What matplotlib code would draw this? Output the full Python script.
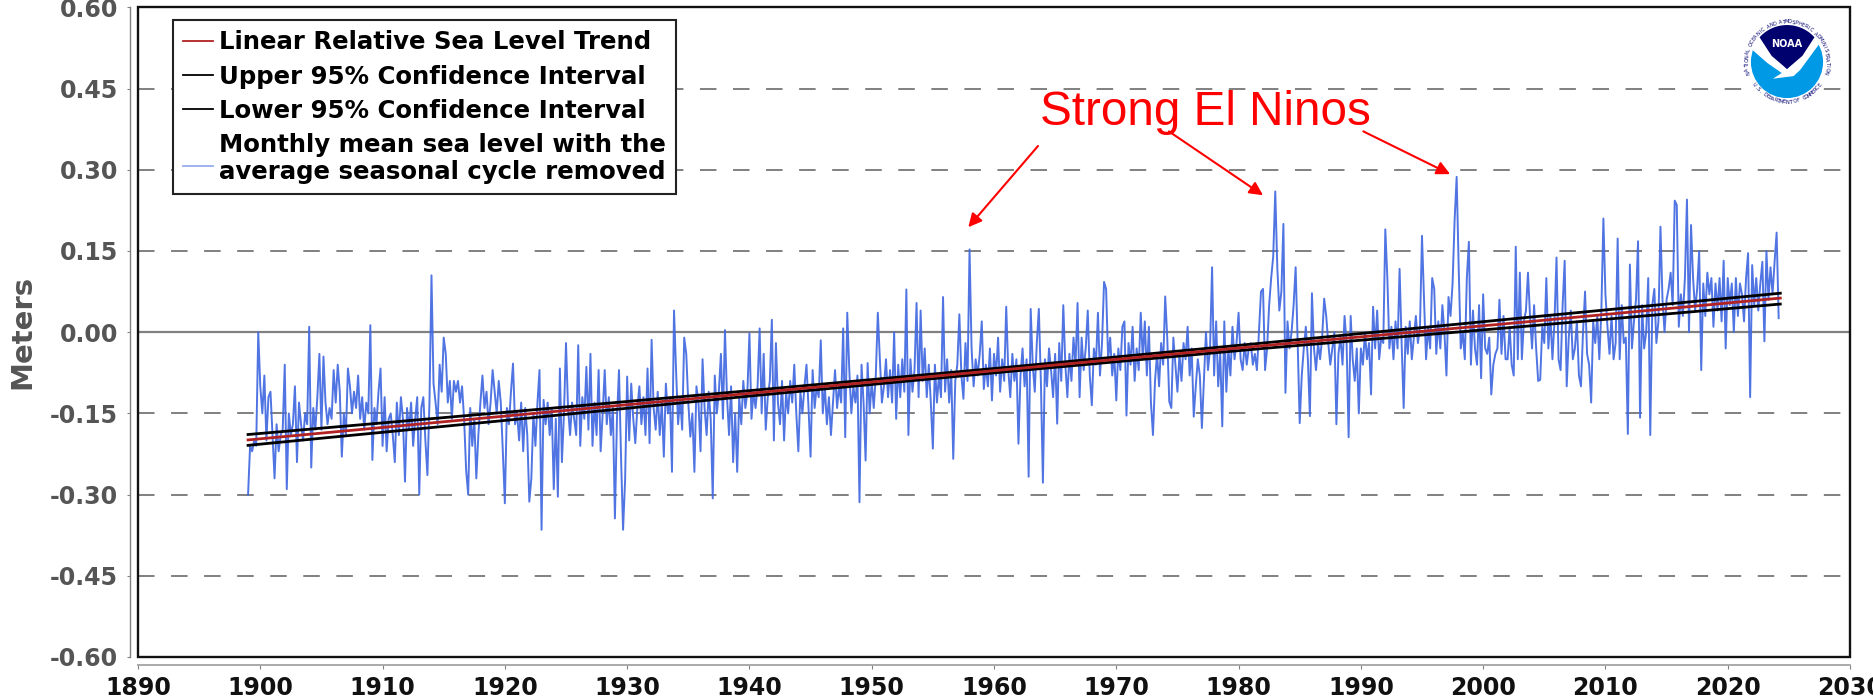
import numpy as np
import matplotlib
matplotlib.use("Agg")
import matplotlib.pyplot as plt
from matplotlib.patches import Circle, Polygon, Rectangle

# monthly mean sea level (read every two months off the picture), metres
msl_1899_1924 = [
    -.30, -.21, -.22, -.20, -.21, 0.00,
    -.10, -.15, -.08, -.20, -.12, -.11,
    -.19, -.27, -.17, -.22, -.19, -.18,
    -.06, -.29, -.15, -.19, -.17, -.10,
    -.24, -.13, -.17, -.20, -.15, -.17,
    .01, -.25, -.14, -.18, -.12, -.04,
    -.18, -.045, -.13, -.17, -.14, -.16,
    -.07, -.13, -.06, -.11, -.23, -.15,
    -.19, -.067, -.10, -.15, -.11, -.14,
    -.08, -.16, -.12, -.18, -.13, -.15,
    .013, -.236, -.14, -.17, -.11, -.067,
    -.21, -.12, -.22, -.16, -.15, -.19,
    -.24, -.13, -.19, -.12, -.16, -.276,
    -.14, -.18, -.13, -.21, -.16, -.12,
    -.30, -.14, -.12, -.20, -.264, -.13,
    .105, -.095, -.13, -.17, -.06, -.11,
    -.01, -.04, -.13, -.09, -.16, -.09,
    -.11, -.09, -.13, -.10, -.16, -.255,
    -.30, -.14, -.21, -.16, -.27, -.19,
    -.13, -.08, -.14, -.11, -.17, -.13,
    -.07, -.11, -.15, -.09, -.13, -.22,
    -.316, -.14, -.17, -.11, -.058, -.17,
    -.15, -.20, -.13, -.22, -.14, -.19,
    -.313, -.27, -.15, -.21, -.13, -.07,
    -.365, -.125, -.17, -.13, -.19, -.14,
    -.29, -.16, -.304, -.067, -.24, -.15,
]
msl_1925_1949 = [
    -.02, -.14, -.19, -.13, -.16, -.19,
    -.024, -.21, -.12, -.16, -.064, -.18,
    -.04, -.21, -.13, -.19, -.07, -.22,
    -.15, -.07, -.17, -.12, -.19, -.14,
    -.344, -.16, -.07, -.23, -.365, -.273,
    -.082, -.20, -.095, -.16, -.205, -.14,
    -.10, -.17, -.12, -.19, -.067, -.205,
    -.014, -.14, -.18, -.11, -.19, -.13,
    -.23, -.095, -.15, -.12, -.258, .04,
    -.07, -.17, -.12, -.18, -.01, -.04,
    -.13, -.193, -.15, -.258, -.10, -.13,
    -.22, -.05, -.14, -.19, -.11, -.16,
    -.307, -.08, -.15, -.11, -.04, -.16,
    .004, -.12, -.19, -.10, -.24, -.15,
    -.258, -.12, -.17, -.09, -.14, -.11,
    -.002, -.16, -.11, -.14, -.10, .007,
    -.15, -.04, -.18, -.12, -.09, .023,
    -.20, -.02, -.13, -.17, -.09, -.20,
    -.11, -.15, -.09, -.13, -.06, -.15,
    -.22, -.11, -.15, -.10, -.06, -.14,
    -.23, -.07, -.14, -.10, -.12, -.015,
    -.15, -.10, -.17, -.12, -.19, -.13,
    -.07, -.14, -.10, -.13, .007, -.194,
    .036, -.07, -.15, -.10, -.13, -.08,
    -.314, -.06, -.13, -.237, -.057, -.15,
]
msl_1950_1974 = [
    -.09, -.14, -.08, .036, -.05, -.13,
    -.10, -.05, -.12, -.07, -.13, 0.00,
    -.16, -.06, -.12, -.05, -.11, .079,
    -.19, -.05, -.11, -.07, .054, -.12,
    .04, -.09, -.03, -.12, -.06, -.13,
    -.215, -.06, -.13, -.08, -.12, .065,
    -.11, -.05, -.13, -.07, -.234, -.09,
    -.06, .033, -.08, -.123, -.02, -.09,
    .153, -.03, -.10, -.05, -.08, -.04,
    .02, -.105, -.06, -.10, -.03, -.126,
    -.04, -.08, -.01, -.11, -.05, -.09,
    .047, -.07, -.12, -.04, -.09, -.05,
    -.206, -.08, -.03, -.10, -.05, -.267,
    .043, -.06, -.11, -.02, .043, -.09,
    -.278, -.05, -.10, -.03, -.07, -.12,
    -.04, -.169, -.02, -.09, .05, -.06,
    -.12, -.04, -.09, -.01, -.06, .054,
    -.12, -.01, -.07, -.03, .04, -.08,
    -.135, -.03, -.06, .036, -.08, -.02,
    .093, .08, -.05, -.01, -.08, -.04,
    -.126, -.03, -.07, .01, .02, -.154,
    -.02, -.06, .01, -.09, -.03, -.07,
    .036, -.05, .02, -.08, .01, -.13,
    -.19, -.09, -.04, -.10, -.02, -.06,
    .066, -.01, -.128, -.14, -.01, -.06,
]
msl_1975_1999 = [
    -.11, -.04, -.09, -.02, -.05, .01,
    -.08, -.03, -.156, -.10, -.05, -.08,
    -.177, -.09, 0.00, -.07, -.03, .12,
    -.08, .02, -.10, -.04, -.174, .02,
    -.11, -.03, -.08, .01, -.05, -.02,
    .036, -.05, -.07, -.02, -.06, -.03,
    -.02, -.06, -.04, -.07, 0.00, .075,
    .08, -.07, -.03, .05, .10, .14,
    .26, .12, .04, .075, .20, -.112,
    .02, -.03, 0.00, .05, .12, -.02,
    -.168, -.08, -.03, .01, -.05, -.155,
    .072, -.03, -.07, -.02, -.05, -.01,
    .062, .03, -.02, -.06, -.03, 0.00,
    -.17, -.04, -.01, -.06, .03, -.02,
    -.194, .03, -.05, -.09, -.03, -.15,
    -.03, -.06, 0.00, -.05, -.02, -.115,
    .047, -.03, .04, -.05, -.01, -.02,
    .19, .10, -.03, .01, -.05, .02,
    -.03, .117, -.02, -.14, .01, -.04,
    .02, -.05, -.01, .03, -.02, .01,
    .178, .06, -.05, .01, -.03, .10,
    .08, -.04, .02, -.03, .05, 0.00,
    -.08, .065, .03, .09, .207, .287,
    .12, -.03, 0.00, -.05, .10, .167,
    -.06, .04, -.03, -.06, .05, -.085,
]
msl_2000_2024 = [
    .07, -.03, -.04, -.01, -.115, -.06,
    -.04, -.03, .06, -.04, .03, -.05,
    -.05, .01, -.06, -.08, .158, -.05,
    .11, -.05, .02, .04, .11, .03,
    -.03, .05, -.03, -.09, -.088, .01,
    -.02, .10, -.03, .03, -.05, .02,
    .138, -.05, -.07, .05, .132, -.10,
    -.01, .04, -.05, -.03, .02, -.08,
    -.10, 0.00, .075, -.04, -.06, -.13,
    .02, -.02, .03, -.05, .04, .21,
    .07, .01, -.04, .03, -.05, -.02,
    .173, -.05, .05, -.02, -.01, -.188,
    .125, -.03, .02, .06, .168, -.158,
    .05, -.03, 0.00, .10, -.19, .05,
    .08, -.02, .02, .195, .06, 0.00,
    .06, .08, .11, .05, .243, .235,
    .01, .07, .03, .10, .245, 0.00,
    .198, .10, .04, .08, .15, -.07,
    .09, .03, .11, .07, .10, .01,
    .09, .04, .10, .02, .132, -.03,
    .10, .05, .09, 0.00, .10, .03,
    .09, .07, .02, .10, .146, -.12,
    .124, .05, .10, .04, .09, .13,
    -.017, .15, .06, .12, .07, .13,
    .184, .026,
]

# the confidence band pinches in the middle of the record
trend_years = [1899.0, 1920, 1940, 1961, 1982, 2003, 2024.3]
trend_mean = [-0.199, -0.155, -0.113, -0.069, -0.025, 0.018, 0.063]
trend_upper = [-0.189, -0.148, -0.108, -0.065, -0.020, 0.026, 0.072]
trend_lower = [-0.209, -0.163, -0.118, -0.073, -0.030, 0.010, 0.052]

x_ticks = [1890, 1900, 1910, 1920, 1930, 1940, 1950, 1960, 1970, 1980, 1990, 2000, 2010, 2020, 2030]
y_ticks = [-0.60, -0.45, -0.30, -0.15, 0.00, 0.15, 0.30, 0.45, 0.60]
y_labels = ["-0.60", "-0.45", "-0.30", "-0.15", "0.00", "0.15", "0.30", "0.45", "0.60"]
grid_levels = [-0.45, -0.30, -0.15, 0.15, 0.30, 0.45]

note_text = "Strong El Ninos"
note_pos = (1977.3, 0.405)
arrow_tails = [(1963.6, 0.344), (1974.3, 0.371), (1990.2, 0.371)]
arrow_heads = [(1957.9, 0.194), (1982.0, 0.253), (1997.3, 0.292)]

BLUE = "#4169e1"
GRID = "#808080"
AXIS = "#555555"
W, H = 1874, 700

msl = np.array(msl_1899_1924 + msl_1925_1949 + msl_1950_1974 + msl_1975_1999 + msl_2000_2024)
msl_years = 1899 + np.arange(len(msl)) / 6

plt.rcParams["font.family"] = "DejaVu Sans"

fig = plt.figure(figsize=(W / 100, H / 100), dpi=100)
ax = fig.add_axes([138 / W, (H - 657) / H, (1850 - 138) / W, (657 - 7.4) / H])
ax.set_xlim(1890, 2030)
ax.set_ylim(-0.6, 0.6)

for lev in grid_levels:
    ax.axhline(lev, color=GRID, lw=1.4, dashes=(8.5, 8.5), zorder=1)
ax.axhline(0, color=GRID, lw=1.6, zorder=1)

ax.plot(msl_years, msl, color=BLUE, lw=1.4, alpha=0.92, zorder=2,
        label="Monthly mean sea level with the\naverage seasonal cycle removed")
ax.plot(trend_years, trend_upper, color="black", lw=2.0, zorder=3, label="Upper 95% Confidence Interval")
ax.plot(trend_years, trend_lower, color="black", lw=2.0, zorder=3, label="Lower 95% Confidence Interval")
ax.plot(trend_years, trend_mean, color="#b22222", lw=2.0, zorder=4, label="Linear Relative Sea Level Trend")

# axis lines sit a little off the plot frame
for side in ["top", "right"]:
    ax.spines[side].set_visible(False)
ax.spines["left"].set_position(("outward", 6))
ax.spines["bottom"].set_position(("outward", 6))
ax.spines["left"].set_color(GRID)
ax.spines["bottom"].set_color("#aaaaaa")
ax.spines["left"].set_linewidth(1.0)
ax.spines["bottom"].set_linewidth(1.4)
ax.add_patch(Rectangle((0, 0), 1, 1, transform=ax.transAxes, fill=False, ec="#111111",
                       lw=1.7, zorder=6, clip_on=False))

ax.set_xticks(x_ticks)
ax.set_xticklabels([str(x) for x in x_ticks], fontsize=17, fontweight="bold", color="#111111")
ax.set_yticks(y_ticks)
ax.set_yticklabels(y_labels, fontsize=17, fontweight="bold", color=AXIS)
ax.tick_params(axis="x", length=3, width=0.8, color=GRID, pad=5)
ax.tick_params(axis="y", length=2.5, width=0.8, color=GRID, pad=6)
ax.set_ylabel("Meters", fontsize=21, fontweight="bold", color=AXIS)
ax.yaxis.set_label_coords(-0.0596, 0.5)

handles, labels = ax.get_legend_handles_labels()
order = [3, 1, 2, 0]
leg = ax.legend([handles[i] for i in order], [labels[i] for i in order], loc="upper left",
                bbox_to_anchor=((173 - 138) / 1712, 1 - (20 - 7.4) / 649.6), frameon=True,
                fancybox=False, framealpha=1, edgecolor="#222222", handlelength=1.2,
                handletextpad=0.25, labelspacing=0.42, borderaxespad=0, borderpad=0.42,
                prop={"weight": "bold", "size": 17.6})
leg.get_frame().set_linewidth(1.5)
leg.set_zorder(7)
for text in leg.get_texts():
    text.set_linespacing(1.15)
for line in leg.get_lines():
    line.set_linewidth(1.3)
blue_handle = leg.get_lines()[3]
blue_handle.set_alpha(0.55)
blue_handle.set_ydata(np.array(blue_handle.get_ydata()) - 5)

ax.text(note_pos[0], note_pos[1], note_text, color="red", fontsize=34.3, family="Liberation Sans",
        ha="center", va="center", zorder=8)
for tail, head in zip(arrow_tails, arrow_heads):
    ax.annotate("", xy=head, xytext=tail, zorder=8,
                arrowprops=dict(arrowstyle="-|>", color="red", lw=1.5, mutation_scale=20,
                                shrinkA=0, shrinkB=0))

# NOAA logo, top right
size = 88
logo = fig.add_axes([(1787 - size / 2) / W, (H - 62 - size / 2) / H, size / W, size / H])
logo.set_xlim(-1, 1)
logo.set_ylim(-1, 1)
logo.axis("off")
logo.add_patch(Circle((0, 0), 1.0, fc="white", ec="none"))
logo.add_patch(Circle((0, 0), 0.82, fc="#0099e6", ec="none"))
ang = np.radians(np.linspace(42, 138, 30))
navy = np.column_stack([0.84 * np.cos(ang), 0.84 * np.sin(ang)])
navy = np.vstack([navy, [[-0.35, 0.14], [0, -0.16], [0.35, 0.14]]])
bird = [(-0.86, 0.34), (-0.45, -0.02), (-0.12, -0.25), (-0.32, -0.38), (0.15, -0.32),
        (0.3, -0.18), (0.8, 0.5), (0.66, 0.62), (0, -0.16), (-0.66, 0.62)]
logo.add_patch(Polygon(bird, fc="white", ec="none"))
logo.add_patch(Polygon(navy, fc="#00006e", ec="none"))
logo.text(0, 0.42, "NOAA", color="white", fontsize=7, fontweight="bold", ha="center", va="center")

ring_top = "NATIONAL OCEANIC AND ATMOSPHERIC ADMINISTRATION"
ring_bottom = "U.S. DEPARTMENT OF COMMERCE"
for ch, a in zip(ring_top, np.linspace(195, -15, len(ring_top))):
    logo.text(0.91 * np.cos(np.radians(a)), 0.91 * np.sin(np.radians(a)), ch, color="#00006e",
              fontsize=3.6, rotation=a - 90, ha="center", va="center")
for ch, a in zip(ring_bottom, np.linspace(215, 325, len(ring_bottom))):
    logo.text(0.91 * np.cos(np.radians(a)), 0.91 * np.sin(np.radians(a)), ch, color="#00006e",
              fontsize=3.6, rotation=a + 90, ha="center", va="center")

fig.savefig("out.png", dpi=100)
